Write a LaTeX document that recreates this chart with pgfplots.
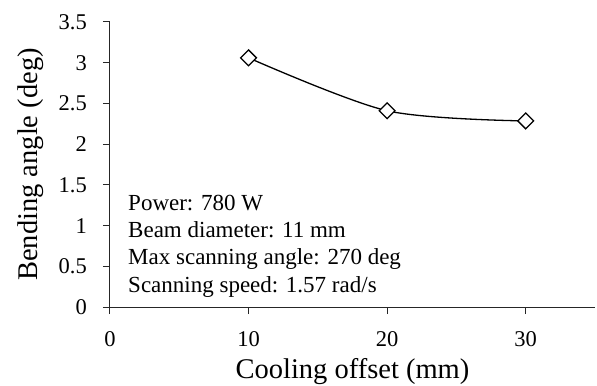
\documentclass[border=0pt]{standalone}
\usepackage{fontspec}
\setmainfont{Liberation Serif}
\usepackage{pgfplots}
\pgfplotsset{compat=1.18}
\begin{document}
\begin{tikzpicture}[x=1bp,y=1bp]
\begin{axis}[
  at={(0,0)}, anchor=south west,
  scale only axis,
  width=485bp, height=285bp,
  xmin=0, xmax=35, ymin=0, ymax=3.5,
  axis x line=bottom, axis y line=left,
  axis line style={-, line width=1bp, black!85},
  xtick={0,10,20,30},
  xticklabels={0,10,20,30},
  ytick={0,0.5,1,1.5,2,2.5,3,3.5},
  yticklabels={0,0.5,1,1.5,2,2.5,3,3.5},
  tick align=outside,
  major tick length=7bp,
  tick style={line width=1bp, black!85},
  tick label style={font=\fontsize{22.5bp}{26bp}\selectfont, inner sep=0pt},
  xticklabel style={anchor=north, yshift=-17bp},
  yticklabel style={anchor=east, xshift=-16bp},
  xlabel={Cooling offset (mm)},
  ylabel={Bending angle (deg)},
  every axis x label/.style={at={(axis description cs:0.5,0)}, anchor=base, yshift=-71bp,
    font=\fontsize{28.5bp}{32bp}\selectfont, inner sep=0pt},
  every axis y label/.style={at={(axis description cs:-0.1505,0.5)}, rotate=90, anchor=base,
    font=\fontsize{28.5bp}{32bp}\selectfont, inner sep=0pt},
  clip=false,
]
\addplot[black, line width=1.3bp, smooth, mark=square*, mark size=5.6bp,
  mark options={rotate=45, fill=white, line width=1.3bp}]
  coordinates {(10,3.06) (20,2.41) (30,2.285)};
\node[anchor=base west, font=\fontsize{23bp}{27bp}\selectfont, inner sep=0pt] at (axis cs:1.3,1.18) {Power: 780 W};
\node[anchor=base west, font=\fontsize{23bp}{27bp}\selectfont, inner sep=0pt] at (axis cs:1.3,0.848) {Beam diameter: 11 mm};
\node[anchor=base west, font=\fontsize{23bp}{27bp}\selectfont, inner sep=0pt] at (axis cs:1.3,0.516) {Max scanning angle: 270 deg};
\node[anchor=base west, font=\fontsize{23bp}{27bp}\selectfont, inner sep=0pt] at (axis cs:1.3,0.184) {Scanning speed: 1.57 rad/s};
\end{axis}
\pgfresetboundingbox
\useasboundingbox (-110,-78) rectangle (487,307);
\end{tikzpicture}
\end{document}
